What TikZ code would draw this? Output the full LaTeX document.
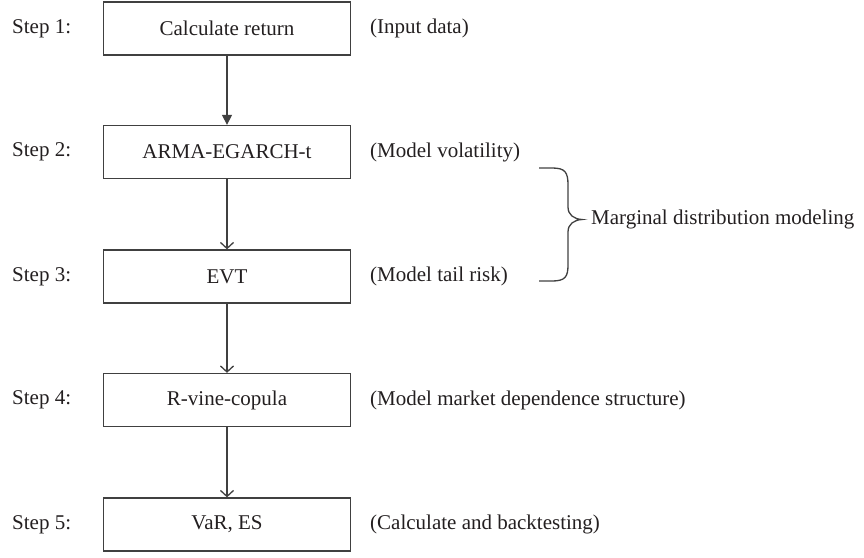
\documentclass[tikz,border=0pt]{standalone}
\usepackage{fontspec}
\setmainfont{Liberation Serif}
\usetikzlibrary{arrows.meta}

\definecolor{linegray}{HTML}{404040}
\definecolor{textblack}{HTML}{231F20}

\begin{document}
\begin{tikzpicture}[
    x=1pt, y=-1pt,
    step box/.style={draw=linegray, line width=1.3pt, minimum width=247pt, minimum height=53pt, inner sep=0pt, text=textblack, font=\fontsize{21}{25}\selectfont},
    side label/.style={anchor=west, inner sep=0pt, text=textblack, font=\fontsize{21}{25}\selectfont},
    first edge/.style={draw=linegray, line width=1.3pt, -{Triangle[length=10pt,width=10pt]}},
    flow edge/.style={draw=linegray, line width=1.3pt, -{Straight Barb[length=6pt,width=13pt]}},
    brace line/.style={draw=linegray, line width=1.3pt}
]
\useasboundingbox (0,0) rectangle (864,557);

% Stufen des Ablaufs
\node[step box] (B1) at (227,28.5)  {Calculate return};
\node[step box] (B2) at (227,152)   {ARMA-EGARCH-t};
\node[step box] (B3) at (227,276.5) {EVT};
\node[step box] (B4) at (227,400)   {R-vine-copula};
\node[step box] (B5) at (227,524.5) {VaR, ES};

% Beschriftung links und rechts
\foreach \i in {1,...,5} \node[side label] (S\i) at (12,0 |- B\i) {Step \i:};

\node[side label] (N1) at (370,0 |- B1) {(Input data)};
\node[side label] (N2) at (370,0 |- B2) {(Model volatility)};
\node[side label] (N3) at (370,0 |- B3) {(Model tail risk)};
\node[side label] (N4) at (370,0 |- B4) {(Model market dependence structure)};
\node[side label] (N5) at (370,0 |- B5) {(Calculate and backtesting)};

% Pfeile
\draw[first edge] (B1) -- (B2);
\foreach \a/\b in {B2/B3, B3/B4, B4/B5} \draw[flow edge] (\a) -- (\b);

% Klammer
\draw[brace line] (539,168) -- (552,168) .. controls (565,168) and (568,172) .. (568,185)
    -- (568,207) .. controls (568,215) and (574,219) .. (582,219.5)
    .. controls (574,220) and (568,224) .. (568,232)
    -- (568,265) .. controls (568,277) and (565,281) .. (552,281) -- (539,281);
\node[side label] (M) at (591,219.5) {Marginal distribution modeling};

\end{tikzpicture}
\end{document}
